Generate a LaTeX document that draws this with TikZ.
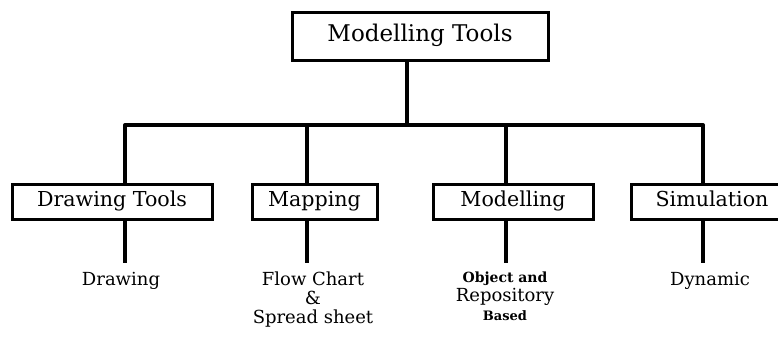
\documentclass[tikz,border=0pt]{standalone}
\usepackage{fontspec}
\setmainfont{DejaVu Serif}
\begin{document}
\begin{tikzpicture}[x=0.5pt,y=-0.5pt,inner sep=0pt,outer sep=0pt,line width=2pt,
toolbox/.style={draw,rectangle,line width=1.5pt,minimum height=17.5pt,text height=0.75em,text depth=0.22em,font=\fontsize{10.3}{12}\selectfont},
leaf/.style={anchor=north,align=center,inner ysep=4.5pt,font=\fontsize{9}{9.5}\selectfont}]
\useasboundingbox (0,0) rectangle (778,337);
\draw (420,36) node[toolbox,minimum width=128pt,minimum height=24pt,font=\fontsize{11.5}{13}\selectfont] (top) {Modelling Tools};
\draw (112,201.5) node[toolbox,minimum width=100pt] (drawtools) {Drawing Tools};
\draw (314.5,201.5) node[toolbox,minimum width=62.5pt] (mapping) {Mapping};
\draw (513,201.5) node[toolbox,minimum width=80pt] (modelling) {Modelling};
\draw (712,201.5) node[toolbox,minimum width=81pt] (simulation) {Simulation};
\draw (121,263) node[leaf] (drawing) {Drawing};
\draw (313,263) node[leaf] (flowchart) {Flow Chart\\\&\\Spread sheet};
\draw (505,263) node[leaf] (objrepo) {{\fontsize{7}{8.5}\selectfont\bfseries Object and}\\Repository\\{\fontsize{6.5}{8}\selectfont\bfseries Based}};
\draw (710,263) node[leaf] (dynamic) {Dynamic};
% the tree
\coordinate (j0) at (407,125);
\coordinate (j1) at (125,125);
\coordinate (j2) at (307,125);
\coordinate (j3) at (506,125);
\coordinate (j4) at (703,125);
\draw (top.south -| j0) -- (j0);
\draw[line cap=round] (j1) -- (j4);
\draw (j1) -- (j1 |- drawtools.north);
\draw (j2) -- (j2 |- mapping.north);
\draw (j3) -- (j3 |- modelling.north);
\draw (j4) -- (j4 |- simulation.north);
\draw (j1 |- drawtools.south) -- (j1 |- drawing.north);
\draw (j2 |- mapping.south) -- (j2 |- flowchart.north);
\draw (j3 |- modelling.south) -- (j3 |- objrepo.north);
\draw (j4 |- simulation.south) -- (j4 |- dynamic.north);
\end{tikzpicture}
\end{document}
